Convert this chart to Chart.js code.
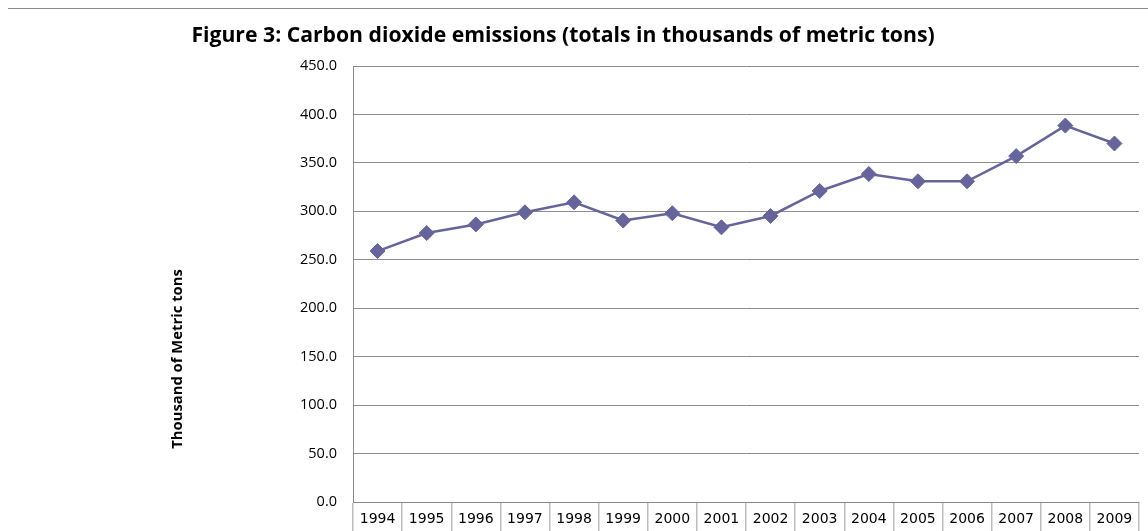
<!DOCTYPE html>
<html>
<head>
<meta charset="utf-8">
<title>Carbon dioxide emissions</title>
<script src="https://cdn.jsdelivr.net/npm/chart.js@4.4.1/dist/chart.umd.min.js"></script>
<style>
  html, body { margin: 0; padding: 0; background: #ffffff; }
  #wrap { position: relative; width: 1148px; height: 531px; }
</style>
</head>
<body>
<div id="wrap"><canvas id="co2" width="1148" height="531"></canvas></div>
<script>
// Years on the category axis
const years = ['1994', '1995', '1996', '1997', '1998', '1999', '2000', '2001',
               '2002', '2003', '2004', '2005', '2006', '2007', '2008', '2009'];
// CO2 emissions, thousands of metric tons
const emissions = [259.0, 277.6, 286.5, 299.0, 309.3, 290.5, 298.0, 283.5,
                   295.2, 321.0, 338.5, 331.0, 331.0, 357.0, 388.5, 370.0];
// Value axis range and step
const yRange = { min: 0, max: 450, step: 50 };

const chartTitle = 'Figure 3: Carbon dioxide emissions (totals in thousands of metric tons)';
const yAxisTitle = 'Thousand of Metric tons';

const seriesColor = '#65659b';

// Frame rule, figure title and rotated value-axis caption
const decorations = {
  id: 'decorations',
  afterDraw(chart) {
    const ctx = chart.ctx;
    ctx.save();
    ctx.strokeStyle = '#8a8a8a';
    ctx.lineWidth = 1;
    ctx.beginPath();
    ctx.moveTo(8, 8.5);
    ctx.lineTo(chart.width, 8.5);
    ctx.stroke();

    ctx.fillStyle = '#000000';
    ctx.font = 'bold 21.2px "Open Sans"';
    ctx.textAlign = 'center';
    ctx.textBaseline = 'alphabetic';
    ctx.fillText(chartTitle, 563, 42);

    ctx.font = 'bold 14.8px "Open Sans"';
    ctx.translate(182, 359);
    ctx.rotate(-Math.PI / 2);
    ctx.fillText(yAxisTitle, 0, 0);
    ctx.restore();
  }
};

new Chart(document.getElementById('co2'), {
  type: 'line',
  data: {
    labels: years,
    datasets: [{
      label: 'CO2 emissions',
      data: emissions,
      borderColor: seriesColor,
      backgroundColor: seriesColor,
      borderWidth: 2.5,
      pointStyle: 'rectRot',
      pointRadius: 7.5,
      pointBorderWidth: 1,
      pointBorderColor: seriesColor,
      pointBackgroundColor: seriesColor,
      tension: 0
    }]
  },
  options: {
    responsive: false,
    animation: false,
    events: [],
    layout: { padding: { top: 66, right: 9, bottom: 0, left: 0 } },
    plugins: {
      legend: { display: false },
      title: { display: false },
      tooltip: { enabled: false }
    },
    scales: {
      x: {
        type: 'category',
        offset: true,
        afterFit(scale) { scale.height = 29; },
        border: { display: true, color: '#8a8a8a', width: 1 },
        grid: {
          offset: true,
          drawOnChartArea: false,
          drawTicks: true,
          tickLength: 29,
          color: '#bdbdbd',
          lineWidth: 1.5
        },
        ticks: {
          padding: -20,
          color: '#000000',
          maxRotation: 0,
          autoSkip: false,
          font: { family: '"DejaVu Sans"', size: 14 }
        }
      },
      y: {
        min: yRange.min,
        max: yRange.max,
        afterFit(scale) { scale.width = 353; },
        border: { display: true, color: '#8a8a8a', width: 1 },
        grid: { color: '#8c8c8c', lineWidth: 1, drawTicks: false },
        ticks: {
          stepSize: yRange.step,
          padding: 16,
          color: '#000000',
          font: { family: '"Open Sans"', size: 14.5 },
          callback: (v) => Number(v).toFixed(1)
        }
      }
    }
  },
  plugins: [decorations]
});
</script>
</body>
</html>
